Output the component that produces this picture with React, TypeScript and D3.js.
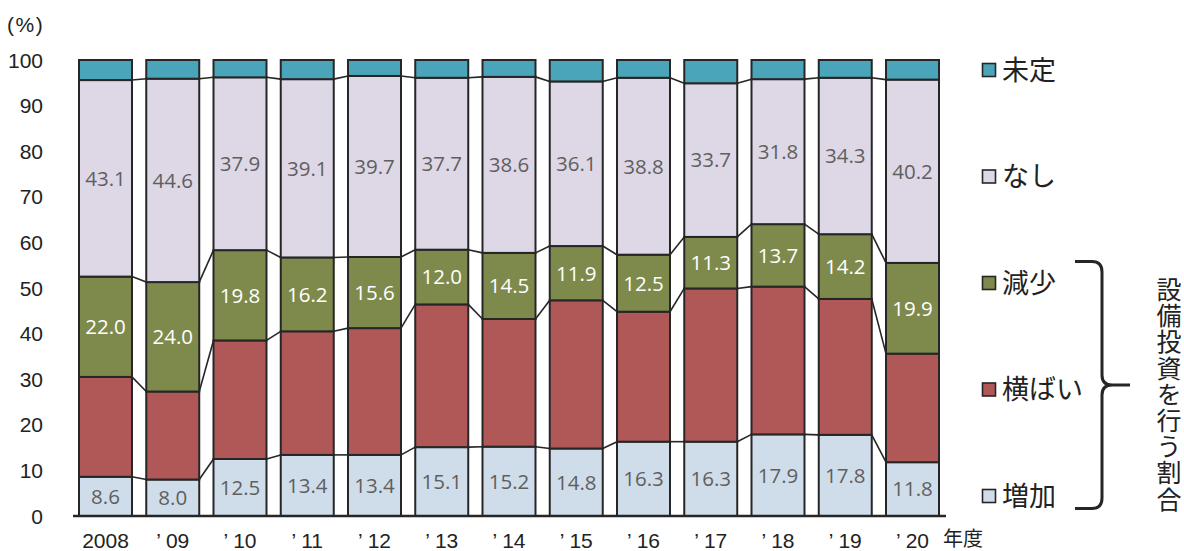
import React from "react";
import * as d3 from "d3";

// Fiscal years on the x axis
const years = ["2008", "’ 09", "’ 10", "’ 11", "’ 12", "’ 13", "’ 14", "’ 15", "’ 16", "’ 17", "’ 18", "’ 19", "’ 20"];

// Share of firms (%) by plan for capital investment
const increase = [8.6, 8.0, 12.5, 13.4, 13.4, 15.1, 15.2, 14.8, 16.3, 16.3, 17.9, 17.8, 11.8];
const flat = [21.9, 19.3, 26.0, 27.1, 27.8, 31.3, 28.0, 32.5, 28.5, 33.6, 32.4, 29.8, 23.8];
const decrease = [22.0, 24.0, 19.8, 16.2, 15.6, 12.0, 14.5, 11.9, 12.5, 11.3, 13.7, 14.2, 19.9];
const none = [43.1, 44.6, 37.9, 39.1, 39.7, 37.7, 38.6, 36.1, 38.8, 33.7, 31.8, 34.3, 40.2];

const yTicks = [0, 10, 20, 30, 40, 50, 60, 70, 80, 90, 100];

const seriesNames = ["増加", "横ばい", "減少", "なし", "未定"];
const seriesColors = ["#cfdcea", "#b05858", "#7e8a4c", "#ddd7e6", "#4aa5ba"];
const labelColors = ["#5f5f5f", null, "#ffffff", "#5f5f5f", null];

const sideNote = "設備投資を行う割合";

type Row = { year: string; 増加: number; 横ばい: number; 減少: number; なし: number; 未定: number };

const rows: Row[] = years.map((year, i) => {
  const s = increase[i] + flat[i] + decrease[i] + none[i];
  return {
    year,
    増加: increase[i],
    横ばい: flat[i],
    減少: decrease[i],
    なし: none[i],
    未定: +(100 - s).toFixed(1),
  };
});

const W = 1184;
const H = 551;

export default function App() {
  const x = d3.scaleBand<string>().domain(years).range([79, 939]).paddingInner(0.212).paddingOuter(0);
  const y = d3.scaleLinear().domain([0, 100]).range([516, 60]);
  const stack = d3.stack<Row>().keys(seriesNames);
  const layers = stack(rows);
  const bw = x.bandwidth();
  const stroke = "#262626";
  const tickFont = "'Liberation Sans', Arial, sans-serif";
  const numFont = "'Open Sans', 'Noto Sans', sans-serif";
  const jpFont = "'Noto Sans CJK JP', sans-serif";

  // legend rows, top to bottom
  const legendOrder = [4, 3, 2, 1, 0];
  const legendY = d3.scaleLinear().domain([0, 4]).range([70, 496]);

  return (
    <svg width={W} height={H} style={{ position: "absolute", left: 0, top: 0, display: "block" }}>
      <rect width={W} height={H} fill="#fff" />
      {/* connectors between neighbouring bars */}
      {layers.slice(0, 4).map((layer, li) => (
        <g key={"c" + li}>
          {layer.slice(0, -1).map((d, i) => {
            const n = layer[i + 1];
            return (
              <line
                key={i}
                x1={(x(years[i]) as number) + bw}
                x2={x(years[i + 1]) as number}
                y1={y(d[1])}
                y2={y(n[1])}
                stroke={stroke}
                strokeWidth={1.6}
              />
            );
          })}
        </g>
      ))}
      {/* stacked segments */}
      {layers.map((layer, li) => (
        <g key={"l" + li}>
          {layer.map((d, i) => (
            <rect
              key={i}
              x={x(years[i])}
              y={y(d[1])}
              width={bw}
              height={y(d[0]) - y(d[1])}
              fill={seriesColors[li]}
              stroke={stroke}
              strokeWidth={2}
            />
          ))}
        </g>
      ))}
      {/* value labels */}
      {layers.map((layer, li) =>
        labelColors[li] ? (
          <g key={"t" + li}>
            {layer.map((d, i) => (
              <text
                key={i}
                x={(x(years[i]) as number) + bw / 2}
                y={y((d[0] + d[1]) / 2)}
                dy="0.36em"
                textAnchor="middle"
                fontFamily={numFont}
                fontSize={20.5}
                fill={labelColors[li] as string}
              >
                {(d[1] - d[0]).toFixed(1)}
              </text>
            ))}
          </g>
        ) : null
      )}
      {/* x axis line */}
      <line x1={73} x2={946} y1={y(0)} y2={y(0)} stroke={stroke} strokeWidth={2.5} />
      {/* y tick labels */}
      {yTicks.map((t) => (
        <text key={t} x={43} y={y(t)} dy="0.36em" textAnchor="end" fontFamily={tickFont} fontSize={21} fill="#222">
          {t}
        </text>
      ))}
      <text x={7} y={24} dy="0.36em" fontFamily={tickFont} fontSize={21} fill="#222" letterSpacing={1.5}>
        (%)
      </text>
      {/* x tick labels */}
      {years.map((yr) => (
        <text
          key={yr}
          x={(x(yr) as number) + bw / 2}
          y={540}
          dy="0.36em"
          textAnchor="middle"
          fontFamily={tickFont}
          fontSize={21}
          fill="#222"
        >
          {yr}
        </text>
      ))}
      <text x={943} y={539} dy="0.36em" fontFamily={jpFont} fontSize={20} fill="#222">
        年度
      </text>
      {/* legend */}
      {legendOrder.map((si, k) => (
        <g key={"lg" + si}>
          <rect x={982.5} y={legendY(k) - 6.5} width={13} height={13} fill={seriesColors[si]} stroke={stroke} strokeWidth={1.6} />
          <text x={1002} y={legendY(k)} dy="0.36em" fontFamily={jpFont} fontSize={27} fill="#222">
            {seriesNames[si]}
          </text>
        </g>
      ))}
      {/* brace grouping the three investing categories */}
      <path
        d="M1075,261.5 L1092,261.5 Q1102,261.5 1102,272 L1102,375 Q1102,385 1112,385 L1130,385 M1112,385 Q1102,385 1102,395 L1102,498 Q1102,508.5 1092,508.5 L1075,508.5"
        fill="none"
        stroke={stroke}
        strokeWidth={3}
      />
      {/* vertical side caption */}
      <text
        x={1169}
        y={277}
        style={{ writingMode: "vertical-rl" }}
        fontFamily={jpFont}
        fontSize={25}
        letterSpacing={1.2}
        fill="#222"
      >
        {sideNote}
      </text>
    </svg>
  );
}
